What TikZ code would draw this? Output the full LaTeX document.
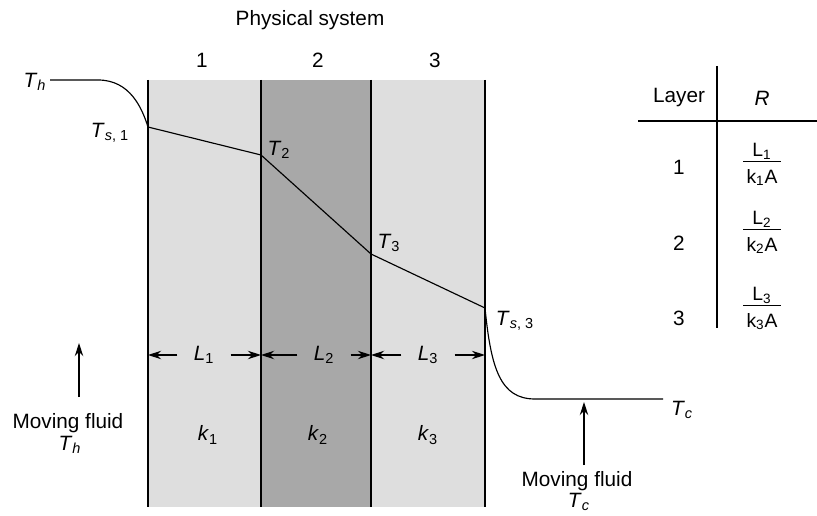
\documentclass[tikz,border=0pt]{standalone}
\usepackage{fontspec}
\setmainfont{Liberation Sans}
\usetikzlibrary{arrows.meta}
\definecolor{layerlight}{RGB}{222,222,222}
\definecolor{layerdark}{RGB}{168,168,168}
\newcommand{\tsym}[1]{\textit{T}\textsubscript{#1}}
\newcommand{\rfrac}[1]{\begin{tabular}{@{\,}c@{\,}}L\textsubscript{#1}\\[-1pt]\hline\rule{0pt}{12pt}k\textsubscript{#1}A\end{tabular}}
\begin{document}
\begin{tikzpicture}[x=0.02cm,y=-0.02cm,>={Stealth[length=7.5pt,width=4.8pt]},line width=.65pt,font=\fontsize{11.8}{13.5}\selectfont]
  \useasboundingbox (0,0) rectangle (817,516);
  \fill[layerlight] (148,80) rectangle (261,507);
  \fill[layerdark] (261,80) rectangle (371,507);
  \fill[layerlight] (371,80) rectangle (485,507);
  \draw (148,80)--(148,507);
  \draw (261,80)--(261,507);
  \draw (371,80)--(371,507);
  \draw (485,80)--(485,507);
  \coordinate (th0) at (50,80);
  \coordinate (th1) at (98,80);
  \coordinate (ts1) at (148,127);
  \coordinate (t2) at (261,155);
  \coordinate (t3) at (371,254);
  \coordinate (ts3) at (485,308);
  \coordinate (tc0) at (535,399);
  \coordinate (tc1) at (663,399);
  \draw (th0)--(th1) .. controls (130,80) and (142,108) .. (ts1)--(t2)--(t3)--(ts3)
    .. controls (491,368) and (500,399) .. (tc0)--(tc1);
  \node (phys) at (310,20) {Physical system};
  \node (n1) at (202,60) {1};
  \node (n2) at (318,60) {2};
  \node (n3) at (435,60) {3};
  \node (lth) at (35,82) {\tsym{\textit{h}}};
  \node (lts1) at (110,133) {\tsym{\textit{s}, 1}};
  \node (lt2) at (279,150) {\tsym{2}};
  \node (lt3) at (389,243) {\tsym{3}};
  \node (lts3) at (515,321) {\tsym{\textit{s}, 3}};
  \node (ltc) at (682,410) {\tsym{\textit{c}}};
  \coordinate (w0) at (148,355);
  \coordinate (w1) at (261,355);
  \coordinate (w2) at (371,355);
  \coordinate (w3) at (485,355);
  \node[inner sep=9pt] (l1) at (204,355) {\textit{L}\textsubscript{1}};
  \node[inner sep=9pt] (l2) at (324,355) {\textit{L}\textsubscript{2}};
  \node[inner sep=9pt] (l3) at (428,355) {\textit{L}\textsubscript{3}};
  \draw[->] (l1)--(w0);
  \draw[->] (l1)--(w1);
  \draw[->] (l2)--(w1);
  \draw[->] (l2)--(w2);
  \draw[->] (l3)--(w2);
  \draw[->] (l3)--(w3);
  \node (k1) at (208,435) {\textit{k}\textsubscript{1}};
  \node (k2) at (318,435) {\textit{k}\textsubscript{2}};
  \node (k3) at (428,435) {\textit{k}\textsubscript{3}};
  \node (mfh) at (68,423) {Moving fluid};
  \node (mfth) at (70,445) {\tsym{\textit{h}}};
  \coordinate (ah0) at (79,397);
  \coordinate (ah1) at (79,343);
  \draw[->] (ah0)--(ah1);
  \node (mfc) at (577,481) {Moving fluid};
  \node (mftc) at (579,502) {\tsym{\textit{c}}};
  \coordinate (ac0) at (584,465);
  \coordinate (ac1) at (584,402);
  \draw[->] (ac0)--(ac1);
  \coordinate (vt) at (717,66);
  \coordinate (vb) at (717,328);
  \coordinate (hl) at (638,121);
  \coordinate (hr) at (817,121);
  \draw (vt)--(vb);
  \draw (hl)--(hr);
  \node (layer) at (679,98) {Layer};
  \node (r) at (762,98) {\textit{R}};
  \node (row1) at (679,167) {1};
  \node (row2) at (679,243) {2};
  \node (row3) at (679,318) {3};
  \node[font=\fontsize{11}{13}\selectfont] (r1) at (762,165) {\rfrac{1}};
  \node[font=\fontsize{11}{13}\selectfont] (r2) at (762,233) {\rfrac{2}};
  \node[font=\fontsize{11}{13}\selectfont] (r3) at (762,309) {\rfrac{3}};
\end{tikzpicture}
\end{document}
